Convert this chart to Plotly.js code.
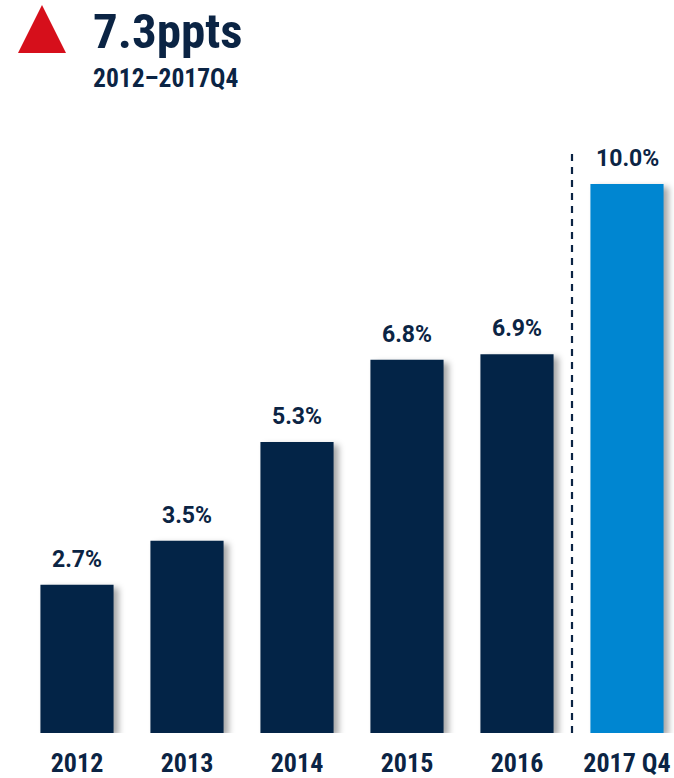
<!DOCTYPE html>
<html>
<head>
<meta charset="utf-8">
<script src="https://cdn.plot.ly/plotly-3.0.1.min.js"></script>
<style>
html,body{margin:0;padding:0;background:#fff;}
#chart{width:674px;height:778px;}
#chart .barlayer .point path{filter:drop-shadow(5px 3px 3px rgba(0,0,0,0.35));}
</style>
</head>
<body>
<div id="chart"></div>
<script>
// ---- data ----
const categories = ["2012", "2013", "2014", "2015", "2016", "2017 Q4"];
const values = [2.7, 3.5, 5.3, 6.8, 6.9, 10.0];
const valueLabels = ["2.7%", "3.5%", "5.3%", "6.8%", "6.9%", "10.0%"];
const headline = "7.3ppts";
const subline = "2012–2017Q4";

// ---- style ----
const NAVY = "#032447";
const BLUE = "#0086d1";
const TEXT = "#0b2444";
const RED = "#d60f1b";
const COND = "Roboto Condensed, Open Sans Condensed, Liberation Sans, sans-serif";
const SANS = "Roboto, Liberation Sans, Arial, sans-serif";

const W = 674, H = 778;
const M = {l: 22, r: 0, t: 129, b: 45};
const pw = W - M.l - M.r, ph = H - M.t - M.b;
const px = x => (x - M.l) / pw;          // pixel x -> paper
const py = y => (H - M.b - y) / ph;      // pixel y -> paper

const colors = categories.map((c, i) => i === categories.length - 1 ? BLUE : NAVY);

const trace = {
  type: "bar",
  x: categories,
  y: values,
  width: 0.665,
  marker: {color: colors, line: {width: 0}},
  hoverinfo: "skip"
};

const annotations = categories.map((c, i) => ({
  x: i, y: values[i], xref: "x", yref: "y",
  text: valueLabels[i], showarrow: false,
  yanchor: "bottom", yshift: 10,
  font: {family: SANS, size: 23, color: TEXT, weight: "bold"}
}));

annotations.push({
  xref: "paper", yref: "paper", x: px(91), y: py(32),
  xanchor: "left", yanchor: "middle", showarrow: false,
  text: headline,
  font: {family: COND, size: 49, color: TEXT, weight: "bold"}
});
annotations.push({
  xref: "paper", yref: "paper", x: px(91), y: py(78),
  xanchor: "left", yanchor: "middle", showarrow: false,
  text: subline,
  font: {family: COND, size: 25.5, color: TEXT, weight: "bold"}
});

const layout = {
  width: W, height: H,
  margin: M,
  paper_bgcolor: "#fff", plot_bgcolor: "#fff",
  showlegend: false,
  xaxis: {
    type: "category",
    range: [-0.5, -0.5 + pw / 110],
    showgrid: false, zeroline: false, showline: false,
    ticks: "", ticklabelstandoff: 12,
    tickfont: {family: COND, size: 26, color: TEXT, weight: "bold"},
    fixedrange: true
  },
  yaxis: {
    range: [0, ph / 54.9],
    visible: false, showgrid: false, zeroline: false,
    fixedrange: true
  },
  shapes: [
    {
      type: "line", xref: "x", yref: "y",
      x0: 4.5, x1: 4.5, y0: 0, y1: 10.58,
      line: {color: TEXT, width: 2.2, dash: "7px,6px"}
    },
    {
      type: "path", xref: "paper", yref: "paper",
      path: `M ${px(18)},${py(53)} L ${px(42)},${py(5)} L ${px(66)},${py(53)} Z`,
      fillcolor: RED, line: {width: 0}
    }
  ],
  annotations: annotations
};

Plotly.newPlot("chart", [trace], layout, {displayModeBar: false, staticPlot: true});
</script>
</body>
</html>
